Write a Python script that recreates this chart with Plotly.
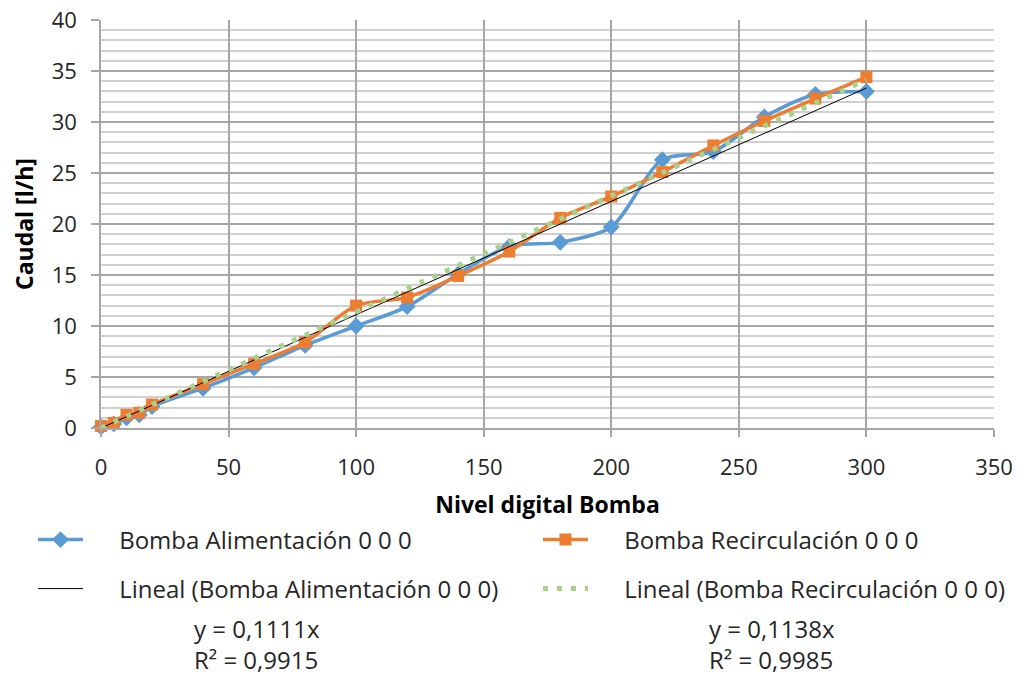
import plotly.graph_objects as go

# Data
x_ali = [0, 5, 10, 15, 20, 40, 60, 80, 100, 120, 140, 160, 180, 200, 220, 240, 260, 280, 300]
y_ali = [0.1, 0.4, 1.0, 1.3, 2.1, 3.9, 5.9, 8.1, 10.0, 11.9, 15.1, 17.8, 18.2, 19.7, 26.3, 27.1, 30.5, 32.7, 33.0]
x_rec = [0, 5, 10, 15, 20, 40, 60, 80, 100, 120, 140, 160, 180, 200, 220, 240, 260, 280, 300]
y_rec = [0.2, 0.5, 1.3, 1.5, 2.3, 4.3, 6.3, 8.4, 12.0, 12.8, 14.9, 17.3, 20.6, 22.7, 25.1, 27.7, 30.1, 32.3, 34.4]
slope_ali = 0.1111
slope_rec = 0.1138
r2_ali = "0,9915"
r2_rec = "0,9985"
trend_x = [0, 300]

name_ali = "Bomba Alimentación 0 0 0"
name_rec = "Bomba Recirculación 0 0 0"

FONT = "Open Sans"
BLUE = "#5B9BD5"
ORANGE = "#ED7D31"
GREEN = "#A9D18E"
PAD = "\u00a0" * 5

fig = go.Figure()
fig.add_trace(go.Scatter(x=x_ali, y=y_ali, mode="lines+markers", name=PAD + name_ali,
                         line=dict(color=BLUE, width=3.5, shape="spline", smoothing=0.8),
                         marker=dict(symbol="diamond", size=13, color=BLUE),
                         cliponaxis=False, legend="legend"))
fig.add_trace(go.Scatter(x=x_rec, y=y_rec, mode="lines+markers", name=PAD + name_rec,
                         line=dict(color=ORANGE, width=3.5, shape="spline", smoothing=0.8),
                         marker=dict(symbol="square", size=12, color=ORANGE),
                         cliponaxis=False, legend="legend2"))
fig.add_trace(go.Scatter(x=trend_x, y=[slope_ali * v for v in trend_x], mode="lines",
                         name=PAD + "Lineal (" + name_ali + ")",
                         line=dict(color="#000000", width=1), legend="legend3"))
fig.add_trace(go.Scatter(x=trend_x, y=[slope_rec * v for v in trend_x], mode="lines",
                         name=PAD + "Lineal (" + name_rec + ")",
                         line=dict(color=GREEN, width=5, dash="5px,9px"), legend="legend4"))

OFF = 8  # page body margin
W, H = 1021 - OFF, 673 - OFF
L, R, T, B = 101 - OFF, 27, 20 - OFF, 245
PW = W - L - R
PH = H - T - B

def px2paper_x(px):
    return (px - OFF - L) / PW

def px2paper_y(py):
    return (H - B - (py - OFF)) / PH

legend_common = dict(orientation="h", font=dict(family=FONT, size=24, color="#262626"),
                     xanchor="left", yanchor="middle", bgcolor="rgba(0,0,0,0)",
                     itemwidth=45)

fig.update_layout(
    width=W, height=H,
    margin=dict(l=L, r=R, t=T, b=B, autoexpand=False),
    paper_bgcolor="white", plot_bgcolor="white",
    font=dict(family=FONT, size=22, color="#262626"),
    showlegend=True,
    legend=dict(x=px2paper_x(33), y=px2paper_y(540), **legend_common),
    legend2=dict(x=px2paper_x(538), y=px2paper_y(540), **legend_common),
    legend3=dict(x=px2paper_x(33), y=px2paper_y(589), **legend_common),
    legend4=dict(x=px2paper_x(538), y=px2paper_y(589), **legend_common),
    xaxis=dict(range=[0, 350], dtick=50, tick0=0, showgrid=True, gridcolor="#a6a6a6", gridwidth=1.5,
               showline=True, linecolor="#a6a6a6", linewidth=1.5, mirror=False, automargin=False,
               ticks="outside", ticklen=7, tickcolor="#a6a6a6", tickwidth=1.5, ticklabelstandoff=12,
               ticklabeloverflow="allow",
               tickfont=dict(family=FONT, size=22, color="#262626"), zeroline=False,
               title=dict(text="<b>Nivel digital Bomba</b>", font=dict(family=FONT, size=23, color="#000000"), standoff=17)),
    yaxis=dict(range=[0, 40], dtick=5, tick0=0, showgrid=True, gridcolor="#a6a6a6", gridwidth=1.5,
               minor=dict(dtick=1, showgrid=True, gridcolor="#d0d0d0", gridwidth=1.5, ticks=""),
               showline=True, linecolor="#a6a6a6", linewidth=1.5, automargin=False,
               ticks="outside", ticklen=8, tickcolor="#a6a6a6", tickwidth=1.5, ticklabelstandoff=10,
               ticklabeloverflow="allow",
               tickfont=dict(family=FONT, size=22, color="#262626"), zeroline=False,
               title=dict(text="<b>Caudal [l/h]</b>", font=dict(family=FONT, size=23, color="#000000"), standoff=12)),
)

ann_font = dict(family=FONT, size=24, color="#262626")
for txt, xp, yp in [
    ("y = 0,1111x", 192, 628),
    ("R² = " + r2_ali, 192, 659),
    ("y = 0,1138x", 707, 628),
    ("R² = " + r2_rec, 707, 659),
]:
    fig.add_annotation(x=px2paper_x(xp), y=px2paper_y(yp), xref="paper", yref="paper",
                       text=txt, showarrow=False, xanchor="left", yanchor="middle", font=ann_font)

fig.write_html("out.html")
